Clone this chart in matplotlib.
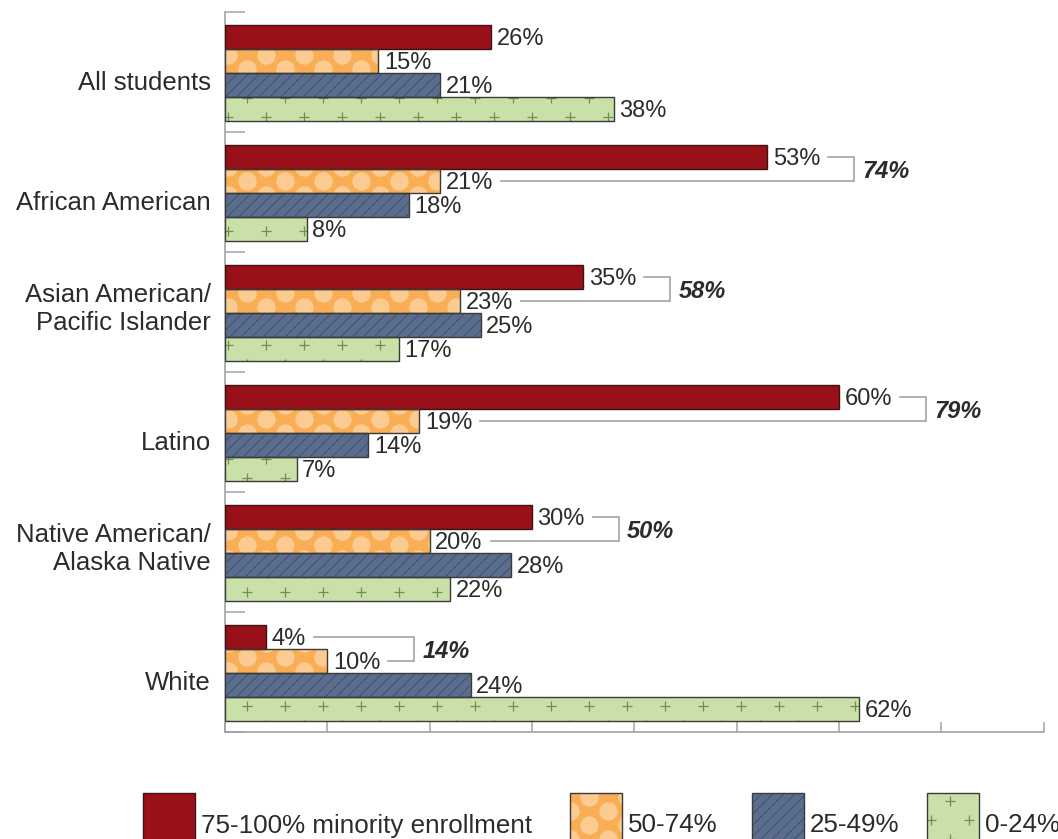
import numpy as np
import matplotlib.pyplot as plt
from matplotlib.patches import Rectangle
from matplotlib.transforms import IdentityTransform

plt.rcParams['font.family'] = ['Liberation Sans', 'DejaVu Sans']
plt.rcParams['hatch.linewidth'] = 0.6

# share of each group's students by school minority enrollment
groups = ["All students", "African American", "Asian American/\nPacific Islander",
          "Latino", "Native American/\nAlaska Native", "White"]
pct_75_100 = [26, 53, 35, 60, 30, 4]
pct_50_74 = [15, 21, 23, 19, 20, 10]
pct_25_49 = [21, 18, 25, 14, 28, 24]
pct_0_24 = [38, 8, 17, 7, 22, 62]
legend_labels = ["75-100% minority enrollment", "50-74%", "25-49%", "0-24%"]

series = [pct_75_100, pct_50_74, pct_25_49, pct_0_24]
fills = ['#9A1018', '#F9AE55', '#5A6D8D', '#CAE0A9']
edges = ['#3A1416', '#3A3A3A', '#3A3A3A', '#3A3A3A']
patterns = [None, 'dots', 'lines', 'plus']
text_color = '#2B2B2B'
gray = '#A3A3A3'

W, H = 1058, 839
fig = plt.figure(figsize=(W / 100, H / 100), dpi=100)
ax = fig.add_axes([225 / W, 1 - 732 / H, (1043.5 - 225) / W, 720 / H])
ax.set_xlim(0, 80)
ax.set_ylim(5.5, -0.5)

bar_h = 0.2
offsets = [-0.292, -0.092, 0.108, 0.308]


def add_pattern(target, patch, kind):
    """Scatter a repeating motif over a patch, clipped to its outline (display px)."""
    x0, y0, x1, y1 = patch.get_extents().extents
    if kind == 'dots':
        dx, dy, marker, size, color, lw = 38, 14, 'o', 175, '#FCCB91', 0
    else:
        dx, dy, marker, size, color, lw = 38, 19, '+', 45, '#6F8F4E', 0.9
    pts = []
    for r in np.arange(np.floor(y0 / dy) - 1, np.ceil(y1 / dy) + 2):
        shift = (r % 2) * dx / 2
        for c in np.arange(np.floor((x0 - shift) / dx) - 1, np.ceil((x1 - shift) / dx) + 2):
            pts.append((c * dx + shift, r * dy))
    pts = np.array(pts)
    sc = target.scatter(pts[:, 0], pts[:, 1], transform=IdentityTransform(), marker=marker,
                        s=size, color=color, linewidths=lw, zorder=2.5)
    sc.set_clip_path(patch)


y_base = np.arange(len(groups))
for k, vals in enumerate(series):
    ypos = y_base + offsets[k]
    if patterns[k] == 'lines':
        bars = ax.barh(ypos, vals, height=bar_h, color=fills[k], edgecolor='#3E4C66',
                       linewidth=0, hatch='///', zorder=2)
    else:
        bars = ax.barh(ypos, vals, height=bar_h, color=fills[k], linewidth=0, zorder=2)
    if patterns[k] in ('dots', 'plus'):
        for b in bars:
            add_pattern(ax, b, patterns[k])
    ax.barh(ypos, vals, height=bar_h, fill=False, edgecolor=edges[k], linewidth=1.0, zorder=3)

# value labels
value_texts = []
for k, vals in enumerate(series):
    row = []
    for i, v in enumerate(vals):
        t = ax.annotate(f"{v}%", xy=(v, y_base[i] + offsets[k]), xytext=(4, 0),
                        textcoords='offset points', va='center_baseline', ha='left',
                        fontsize=17, color=text_color)
        row.append(t)
    value_texts.append(row)

# category labels
for i, g in enumerate(groups):
    ax.annotate(g, xy=(0, i + 0.15), xytext=(-10, 0), textcoords='offset points',
                ha='right', va='baseline', multialignment='right', fontsize=18.5,
                color=text_color)

# axis styling
for s in ('top', 'right'):
    ax.spines[s].set_visible(False)
for s in ('left', 'bottom'):
    ax.spines[s].set_color(gray)
    ax.spines[s].set_linewidth(1.2)
ax.set_xticks(np.arange(0, 81, 10))
ax.set_xticklabels([])
ax.tick_params(axis='x', direction='in', length=7.5, width=1.1, color=gray)
ax.set_yticks(np.arange(-0.5, 6, 1))
ax.set_yticklabels([])
ax.tick_params(axis='y', direction='in', length=14.5, width=1.1, color=gray)

# brackets joining the two highest-minority categories
fig.canvas.draw()
renderer = fig.canvas.get_renderer()
inv = ax.transData.inverted()
for i in range(1, len(groups)):
    y_red = y_base[i] + offsets[0]
    y_org = y_base[i] + offsets[1]
    end_red = value_texts[0][i].get_window_extent(renderer).x1 + 8
    end_org = value_texts[1][i].get_window_extent(renderer).x1 + 8
    x_red = inv.transform((end_red, 0))[0]
    x_org = inv.transform((end_org, 0))[0]
    x_br = max(pct_75_100[i], pct_50_74[i]) + 8.5
    ax.plot([x_red, x_br, x_br, x_org], [y_red, y_red, y_org, y_org], color=gray,
            linewidth=1.2, solid_joinstyle='miter', zorder=1, clip_on=False)
    total = pct_75_100[i] + pct_50_74[i]
    ax.annotate(f"{total}%", xy=(x_br, (y_red + y_org) / 2), xytext=(6, 0),
                textcoords='offset points', va='center_baseline', ha='left', fontsize=17,
                fontweight='bold', fontstyle='italic', color=text_color)

# legend strip along the bottom edge
lax = fig.add_axes([0, 0, 1, 60 / H])
lax.set_xlim(0, W)
lax.set_ylim(0, 60)
lax.axis('off')
patch_x = [143, 570, 752, 927]
for k, label in enumerate(legend_labels):
    rect = Rectangle((patch_x[k], -10), 52, 56, facecolor=fills[k], linewidth=0,
                     hatch='///' if patterns[k] == 'lines' else None,
                     edgecolor='#3E4C66', zorder=2)
    lax.add_patch(rect)
    if patterns[k] in ('dots', 'plus'):
        add_pattern(lax, rect, patterns[k])
    lax.add_patch(Rectangle((patch_x[k], -10), 52, 56, fill=False, edgecolor=edges[k],
                            linewidth=1.0, zorder=3))
    lax.text(patch_x[k] + 58, 16, label, va='center_baseline', ha='left', fontsize=18.7,
             color=text_color)

fig.savefig('out.png', dpi=100)
